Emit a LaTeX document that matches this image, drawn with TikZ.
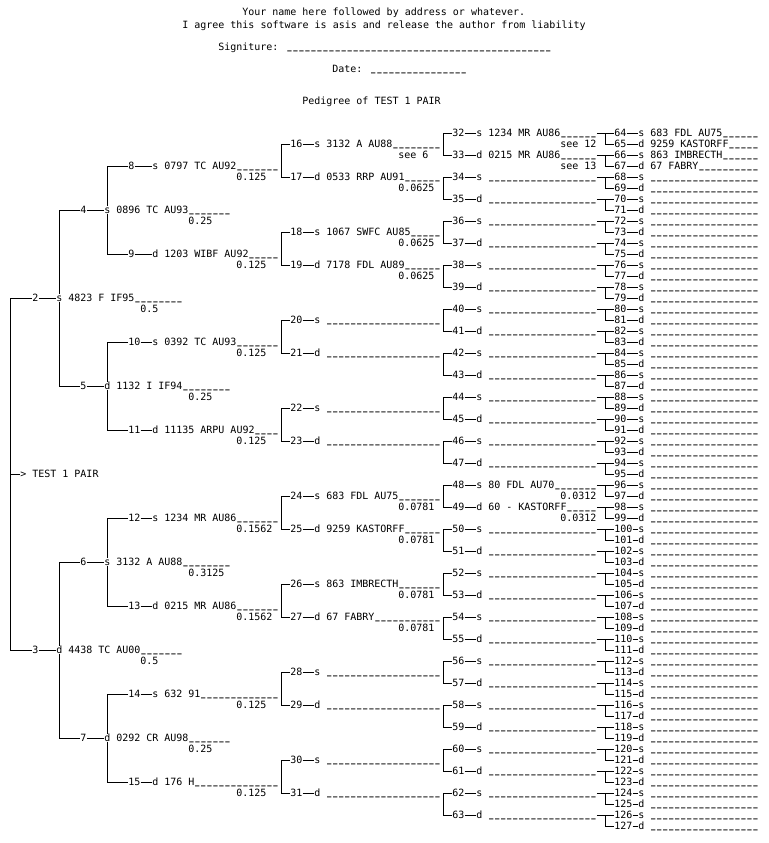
\documentclass[tikz,border=0pt]{standalone}
\usepackage{fontspec}
\usepackage{graphicx}
\newfontfamily\mono{DejaVu Sans Mono}
\newcount\uscount
\newcommand\usone{\makebox[0.602em][c]{\raisebox{0.1em}{\scalebox{0.72}[1]{\bfseries\_}}}}
\newcommand\us[1]{\uscount=#1\relax\usloop}
\def\usloop{\ifnum\uscount>0 \usone\advance\uscount by -1 \expandafter\usloop\fi}
\tikzset{
  t/.style={anchor=west, inner sep=0pt, text height=5.25pt, text depth=0pt,
            font=\mono\fontsize{7.5pt}{8pt}\selectfont},
  ln/.style={line width=0.75pt},
}
% person: number, number column, row, text
\newcommand\pers[4]{%
  \node[t] (n#1) at (#2,#3) {#1};
  \node[t] (l#1) at ({#2+4},#3) {\ifodd#1 d\else s\fi};
  \node[t] (x#1) at ({#2+6},#3) {#4};
}
% fraction: number, column, row of person, text
\newcommand\frc[4]{\node[t] (f#1) at (#2,{#3+1}) {#4};}
\begin{document}
\begin{tikzpicture}[x=4.5pt,y=-8.25pt]
\path[use as bounding box, fill=white] (-0.3333,-12.0909) rectangle (127.6667,64.5455);

% header
\node[t] (h1) at (40,-11) {Your name here followed by address or whatever.};
\node[t] (h2) at (30,-9.82) {I agree this software is asis and release the author from liability};
\node[t] (h3) at (36,-7.82) {Signiture: \us{44}};
\node[t] (h4) at (55,-5.82) {Date: \us{16}};
\node[t] (h5) at (50,-2.91) {Pedigree of TEST 1 PAIR};

% root
\node[t] (root) at (3,31) {> TEST 1 PAIR};

% generation 0
\pers{2}{5}{15}{4823 F IF95\us{8}}   \frc{2}{23}{15}{0.5}
\pers{3}{5}{47}{4438 TC AU00\us{7}}  \frc{3}{23}{47}{0.5}

% generation 1
\pers{4}{13}{7}{0896 TC AU93\us{7}}   \frc{4}{31}{7}{0.25}
\pers{5}{13}{23}{1132 I IF94\us{8}}   \frc{5}{31}{23}{0.25}
\pers{6}{13}{39}{3132 A AU88\us{8}}   \frc{6}{31}{39}{0.3125}
\pers{7}{13}{55}{0292 CR AU98\us{7}}  \frc{7}{31}{55}{0.25}

% generation 2
\pers{8}{21}{3}{0797 TC AU92\us{7}}      \frc{8}{39}{3}{0.125}
\pers{9}{21}{11}{1203 WIBF AU92\us{5}}   \frc{9}{39}{11}{0.125}
\pers{10}{21}{19}{0392 TC AU93\us{7}}    \frc{10}{39}{19}{0.125}
\pers{11}{21}{27}{11135 ARPU AU92\us{4}} \frc{11}{39}{27}{0.125}
\pers{12}{21}{35}{1234 MR AU86\us{7}}    \frc{12}{39}{35}{0.1562}
\pers{13}{21}{43}{0215 MR AU86\us{7}}    \frc{13}{39}{43}{0.1562}
\pers{14}{21}{51}{632 91\us{13}}         \frc{14}{39}{51}{0.125}
\pers{15}{21}{59}{176 H\us{14}}          \frc{15}{39}{59}{0.125}

% generation 3
\pers{16}{48}{1}{3132 A AU88\us{8}}      \frc{16}{66}{1}{see 6}
\pers{17}{48}{4}{0533 RRP AU91\us{6}}    \frc{17}{66}{4}{0.0625}
\pers{18}{48}{9}{1067 SWFC AU85\us{5}}   \frc{18}{66}{9}{0.0625}
\pers{19}{48}{12}{7178 FDL AU89\us{6}}   \frc{19}{66}{12}{0.0625}
\pers{24}{48}{33}{683 FDL AU75\us{7}}    \frc{24}{66}{33}{0.0781}
\pers{25}{48}{36}{9259 KASTORFF\us{6}}   \frc{25}{66}{36}{0.0781}
\pers{26}{48}{41}{863 IMBRECTH\us{7}}    \frc{26}{66}{41}{0.0781}
\pers{27}{48}{44}{67 FABRY\us{11}}       \frc{27}{66}{44}{0.0781}
\foreach \pn/\pr in {20/17,21/20,22/25,23/28,28/49,29/52,30/57,31/60}
  {\pers{\pn}{48}{\pr}{\us{19}}}

% generation 4
\pers{32}{75}{0}{1234 MR AU86\us{6}}     \frc{32}{93}{0}{see 12}
\pers{33}{75}{2}{0215 MR AU86\us{6}}     \frc{33}{93}{2}{see 13}
\pers{48}{75}{32}{80 FDL AU70\us{7}}     \frc{48}{93}{32}{0.0312}
\pers{49}{75}{34}{60 - KASTORFF\us{5}}   \frc{49}{93}{34}{0.0312}
\foreach \j in {2,...,15,18,19,...,31}{%
  \pgfmathtruncatemacro\pn{32+\j}\pgfmathtruncatemacro\pr{2*\j}%
  \pers{\pn}{75}{\pr}{\us{18}}}

% generation 5
\pers{64}{102}{0}{683 FDL AU75\us{6}}
\pers{65}{102}{1}{9259 KASTORFF\us{5}}
\pers{66}{102}{2}{863 IMBRECTH\us{6}}
\pers{67}{102}{3}{67 FABRY\us{10}}
\foreach \k in {4,...,63}{%
  \pgfmathtruncatemacro\pn{64+\k}%
  \pers{\pn}{102}{\k}{\us{18}}}

% number-to-letter dashes
\foreach \k in {2,...,127}{\draw[ln] (n\k.east) -- (l\k.west);}

% brackets gen4 -> gen5
\foreach \j in {0,...,31}{%
  \pgfmathtruncatemacro\pa{32+\j}%
  \pgfmathtruncatemacro\cs{64+2*\j}%
  \pgfmathtruncatemacro\cd{65+2*\j}%
  \draw[ln] (x\pa.east) -- (n\cs.west);
  \draw[ln] (n\cs.west) ++(-1.5,0) |- (n\cd.west);}

% brackets gen3 -> gen4
\foreach \i in {0,...,15}{%
  \pgfmathtruncatemacro\cs{32+2*\i}%
  \pgfmathtruncatemacro\cd{33+2*\i}%
  \draw[ln] (n\cs.west) -- ++(-1.5,0) |- (n\cd.west);}

% brackets gen2 -> gen3
\foreach \m in {0,...,7}{%
  \pgfmathtruncatemacro\cs{16+2*\m}%
  \pgfmathtruncatemacro\cd{17+2*\m}%
  \draw[ln] (n\cs.west) -- ++(-1.5,0) |- (n\cd.west);}

% brackets gen1 -> gen2 and gen0 -> gen1 (through the s/d letter)
\foreach \p in {2,...,7}{%
  \pgfmathtruncatemacro\cs{2*\p}%
  \pgfmathtruncatemacro\cd{2*\p+1}%
  \draw[ln] (n\cs.west) -| (l\p.north);
  \draw[ln] (l\p.south) |- (n\cd.west);}

% root bracket
\draw[ln] (n2.west) -- ++(-3.5,0) |- (n3.west);
\coordinate (rj) at (1.5,31);
\draw[ln] (rj) -- (root.west);
\end{tikzpicture}
\end{document}
